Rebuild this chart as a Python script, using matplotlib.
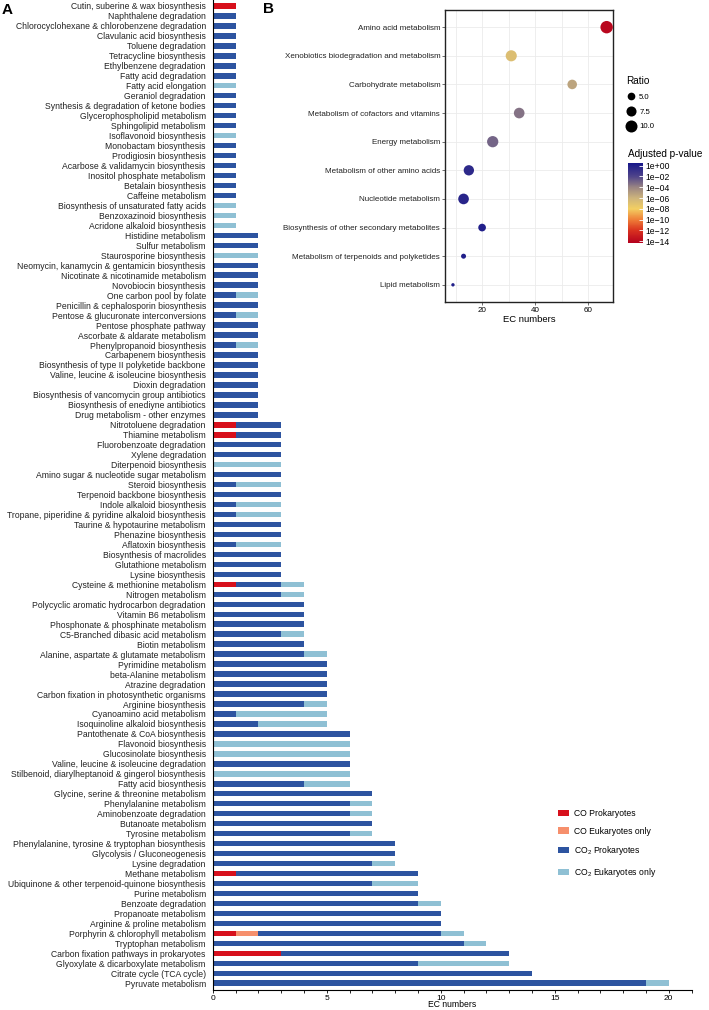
import numpy as np
import matplotlib
matplotlib.use("Agg")
import matplotlib.pyplot as plt
import matplotlib.colors as mcolors
from matplotlib.cm import ScalarMappable
from matplotlib.lines import Line2D
from matplotlib.patches import Patch
from matplotlib.ticker import MultipleLocator

plt.rcParams['font.family'] = ['Liberation Sans', 'DejaVu Sans']
plt.rcParams['mathtext.default'] = 'regular'

# ---- panel A data (top to bottom) ----
pathways = [
    "Cutin, suberine & wax biosynthesis", "Naphthalene degradation",
    "Chlorocyclohexane & chlorobenzene degradation", "Clavulanic acid biosynthesis",
    "Toluene degradation", "Tetracycline biosynthesis", "Ethylbenzene degradation",
    "Fatty acid degradation", "Fatty acid elongation", "Geraniol degradation",
    "Synthesis & degradation of ketone bodies", "Glycerophospholipid metabolism",
    "Sphingolipid metabolism", "Isoflavonoid biosynthesis", "Monobactam biosynthesis",
    "Prodigiosin biosynthesis", "Acarbose & validamycin biosynthesis",
    "Inositol phosphate metabolism", "Betalain biosynthesis", "Caffeine metabolism",
    "Biosynthesis of unsaturated fatty acids", "Benzoxazinoid biosynthesis",
    "Acridone alkaloid biosynthesis", "Histidine metabolism", "Sulfur metabolism",
    "Staurosporine biosynthesis", "Neomycin, kanamycin & gentamicin biosynthesis",
    "Nicotinate & nicotinamide metabolism", "Novobiocin biosynthesis",
    "One carbon pool by folate", "Penicillin & cephalosporin biosynthesis",
    "Pentose & glucuronate interconversions", "Pentose phosphate pathway",
    "Ascorbate & aldarate metabolism", "Phenylpropanoid biosynthesis",
    "Carbapenem biosynthesis", "Biosynthesis of type II polyketide backbone",
    "Valine, leucine & isoleucine biosynthesis", "Dioxin degradation",
    "Biosynthesis of vancomycin group antibiotics", "Biosynthesis of enediyne antibiotics",
    "Drug metabolism - other enzymes", "Nitrotoluene degradation", "Thiamine metabolism",
    "Fluorobenzoate degradation", "Xylene degradation", "Diterpenoid biosynthesis",
    "Amino sugar & nucleotide sugar metabolism", "Steroid biosynthesis",
    "Terpenoid backbone biosynthesis", "Indole alkaloid biosynthesis",
    "Tropane, piperidine & pyridine alkaloid biosynthesis",
    "Taurine & hypotaurine metabolism", "Phenazine biosynthesis", "Aflatoxin biosynthesis",
    "Biosynthesis of macrolides", "Glutathione metabolism", "Lysine biosynthesis",
    "Cysteine & methionine metabolism", "Nitrogen metabolism",
    "Polycyclic aromatic hydrocarbon degradation", "Vitamin B6 metabolism",
    "Phosphonate & phosphinate metabolism", "C5-Branched dibasic acid metabolism",
    "Biotin metabolism", "Alanine, aspartate & glutamate metabolism",
    "Pyrimidine metabolism", "beta-Alanine metabolism", "Atrazine degradation",
    "Carbon fixation in photosynthetic organisms", "Arginine biosynthesis",
    "Cyanoamino acid metabolism", "Isoquinoline alkaloid biosynthesis",
    "Pantothenate & CoA biosynthesis", "Flavonoid biosynthesis",
    "Glucosinolate biosynthesis", "Valine, leucine & isoleucine degradation",
    "Stilbenoid, diarylheptanoid & gingerol biosynthesis", "Fatty acid biosynthesis",
    "Glycine, serine & threonine metabolism", "Phenylalanine metabolism",
    "Aminobenzoate degradation", "Butanoate metabolism", "Tyrosine metabolism",
    "Phenylalanine, tyrosine & tryptophan biosynthesis", "Glycolysis / Gluconeogenesis",
    "Lysine degradation", "Methane metabolism",
    "Ubiquinone & other terpenoid-quinone biosynthesis", "Purine metabolism",
    "Benzoate degradation", "Propanoate metabolism", "Arginine & proline metabolism",
    "Porphyrin & chlorophyll metabolism", "Tryptophan metabolism",
    "Carbon fixation pathways in prokaryotes", "Glyoxylate & dicarboxylate metabolism",
    "Citrate cycle (TCA cycle)", "Pyruvate metabolism",
]

co_prok = [1, 0, 0, 0, 0, 0, 0, 0, 0, 0,
           0, 0, 0, 0, 0, 0, 0, 0, 0, 0,
           0, 0, 0, 0, 0, 0, 0, 0, 0, 0,
           0, 0, 0, 0, 0, 0, 0, 0, 0, 0,
           0, 0, 1, 1, 0, 0, 0, 0, 0, 0,
           0, 0, 0, 0, 0, 0, 0, 0, 1, 0,
           0, 0, 0, 0, 0, 0, 0, 0, 0, 0,
           0, 0, 0, 0, 0, 0, 0, 0, 0, 0,
           0, 0, 0, 0, 0, 0, 0, 1, 0, 0,
           0, 0, 0, 1, 0, 3, 0, 0, 0]
co_euk = [0] * 93 + [1, 0, 0, 0, 0, 0]
co2_prok = [0, 1, 1, 1, 1, 1, 1, 1, 0, 1,
            1, 1, 1, 0, 1, 1, 1, 1, 1, 1,
            0, 0, 0, 2, 2, 0, 2, 2, 2, 1,
            2, 1, 2, 2, 1, 2, 2, 2, 2, 2,
            2, 2, 2, 2, 3, 3, 0, 3, 1, 3,
            1, 1, 3, 3, 1, 3, 3, 3, 2, 3,
            4, 4, 4, 3, 4, 4, 5, 5, 5, 5,
            4, 1, 2, 6, 0, 0, 6, 0, 4, 7,
            6, 6, 7, 6, 8, 8, 7, 8, 7, 9,
            9, 10, 10, 8, 11, 10, 9, 14, 19]
co2_euk = [0, 0, 0, 0, 0, 0, 0, 0, 1, 0,
           0, 0, 0, 1, 0, 0, 0, 0, 0, 0,
           1, 1, 1, 0, 0, 2, 0, 0, 0, 1,
           0, 1, 0, 0, 1, 0, 0, 0, 0, 0,
           0, 0, 0, 0, 0, 0, 3, 0, 2, 0,
           2, 2, 0, 0, 2, 0, 0, 0, 1, 1,
           0, 0, 0, 1, 0, 1, 0, 0, 0, 0,
           1, 4, 3, 0, 6, 6, 0, 6, 2, 0,
           1, 1, 0, 1, 0, 0, 1, 0, 2, 0,
           1, 0, 0, 1, 1, 0, 4, 0, 1]

series_labels = ["CO Prokaryotes", "CO Eukaryotes only",
                 "CO$_2$ Prokaryotes", "CO$_2$ Eukaryotes only"]
series_colors = ["#d7101c", "#f68f6c", "#2d54a0", "#8fc0d4"]

# ---- panel B data ----
classes = ["Amino acid metabolism", "Xenobiotics biodegradation and metabolism",
           "Carbohydrate metabolism", "Metabolism of cofactors and vitamins",
           "Energy metabolism", "Metabolism of other amino acids",
           "Nucleotide metabolism", "Biosynthesis of other secondary metabolites",
           "Metabolism of terpenoids and polyketides", "Lipid metabolism"]
ec_counts = [67, 31, 54, 34, 24, 15, 13, 20, 13, 9]
ratio = [10.6, 8.8, 6.9, 8.2, 9.0, 7.8, 8.2, 5.0, 3.0, 2.2]
log_padj = [-14.0, -6.8, -5.3, -3.4, -3.0, -0.5, -0.3, 0.0, 0.0, 0.0]


def ratio_to_s(r):
    # area grows linearly with ratio, returned in pt^2
    area_px = 59 + 17 * (np.asarray(r) - 5)
    return np.clip(area_px, 4, None) * (72 / 100) ** 2


W, H = 709, 1010
fig = plt.figure(figsize=(W / 100, H / 100), dpi=100)

# ---------------- panel A ----------------
ax_a = fig.add_axes([212.7 / W, 20 / H, 21 * 22.8 / W, 990 / H])
n = len(pathways)
pos = np.arange(n)
left = np.zeros(n)
for vals, col, lab in zip([co_prok, co_euk, co2_prok, co2_euk], series_colors, series_labels):
    vals = np.array(vals, dtype=float)
    ax_a.barh(pos, vals, left=left, height=0.55, color=col, label=lab, linewidth=0)
    left += vals

ax_a.set_ylim(n - 1 + 0.68, -0.6)
ax_a.set_xlim(0, 21)
ax_a.set_yticks(pos)
ax_a.set_yticklabels(pathways, fontsize=6.2, color="#222222")
ax_a.tick_params(axis="y", length=0, pad=5)
ax_a.xaxis.set_major_locator(MultipleLocator(5))
ax_a.xaxis.set_minor_locator(MultipleLocator(1))
ax_a.tick_params(axis="x", which="both", length=2.5, width=0.6, labelsize=6, pad=1)
ax_a.set_xlabel("EC numbers", fontsize=6.2)
ax_a.xaxis.set_label_coords(0.5, -10 / 990)
for s in ["top", "right"]:
    ax_a.spines[s].set_visible(False)
for s in ["left", "bottom"]:
    ax_a.spines[s].set_linewidth(0.8)

handles = [Patch(facecolor=c, edgecolor="none") for c in series_colors]
ax_a.legend(handles, series_labels, loc="upper left",
            bbox_to_anchor=(558 / W, 1 - 809 / H), bbox_transform=fig.transFigure,
            frameon=False, fontsize=6.2, handlelength=1.3, handleheight=0.75,
            labelspacing=1.0, handletextpad=0.6, borderpad=0, borderaxespad=0)

# ---------------- panel B ----------------
ax_b = fig.add_axes([445 / W, 1 - 302 / H, 168 / W, 292 / H])
yb = np.arange(len(classes), 0, -1)

stops = [(-14.4, "#b3001e"), (-12, "#d9321f"), (-10, "#ef7f38"),
         (-8, "#f3cf62"), (-6, "#cdb47c"), (-4, "#9a8583"),
         (-2, "#50458a"), (0.45, "#18188a")]
vmin, vmax = -14.4, 0.45
cmap = mcolors.LinearSegmentedColormap.from_list(
    "padj", [((v - vmin) / (vmax - vmin), c) for v, c in stops])
norm = mcolors.Normalize(vmin=vmin, vmax=vmax)

ax_b.scatter(ec_counts, yb, s=ratio_to_s(ratio), c=log_padj, cmap=cmap, norm=norm,
             linewidths=0, zorder=3)
ax_b.set_xlim(6, 69.4)
ax_b.set_ylim(0.4, len(classes) + 0.6)
ax_b.set_xticks([20, 40, 60])
ax_b.xaxis.set_minor_locator(MultipleLocator(10))
ax_b.set_yticks(yb)
ax_b.set_yticklabels(classes, fontsize=6.4, color="#222222")
ax_b.grid(True, which="both", color="#ebebeb", linewidth=0.6, zorder=0)
ax_b.set_axisbelow(True)
ax_b.tick_params(axis="both", which="major", length=2, width=0.5, color="#333333",
                 labelsize=5.8, pad=1.5)
ax_b.tick_params(axis="x", which="minor", length=0)
ax_b.set_xlabel("EC numbers", fontsize=6.8, labelpad=1)
for s in ax_b.spines.values():
    s.set_linewidth(1.0)
    s.set_color("#222222")

# size legend
size_vals = [5.0, 7.5, 10.0]
size_handles = [Line2D([], [], marker="o", linestyle="none", color="black",
                       markeredgewidth=0, markersize=np.sqrt(ratio_to_s(v)))
                for v in size_vals]
leg = ax_b.legend(size_handles, ["5.0", "7.5", "10.0"], title="Ratio",
                  loc="upper left", bbox_to_anchor=(626 / W, 1 - 76 / H),
                  bbox_transform=fig.transFigure, frameon=False, fontsize=5.6,
                  title_fontsize=7.2, handlelength=1.2, handletextpad=0.5,
                  labelspacing=0.95, borderpad=0, borderaxespad=0, alignment="left")

# colour bar
cax = fig.add_axes([628 / W, 1 - 243.3 / H, 15 / W, 80 / H])
cb = fig.colorbar(ScalarMappable(norm=norm, cmap=cmap), cax=cax,
                  ticks=np.arange(0, -15, -2))
cb.ax.set_yticklabels(["1e+00" if t == 0 else "1e\u2212%02d" % -t
                       for t in np.arange(0, -15, -2)])
cb.outline.set_visible(False)
cax.tick_params(length=3, width=0.6, color="white", direction="in",
                labelsize=6.2, pad=2)
fig.text(628 / W, 1 - 154 / H, "Adjusted p-value", fontsize=7.2, va="center", ha="left")

fig.text(2 / W, 1 - 10 / H, "A", fontsize=11, fontweight="bold", va="center")
fig.text(263 / W, 1 - 9 / H, "B", fontsize=11, fontweight="bold", va="center")

fig.savefig("out.png", dpi=100)
